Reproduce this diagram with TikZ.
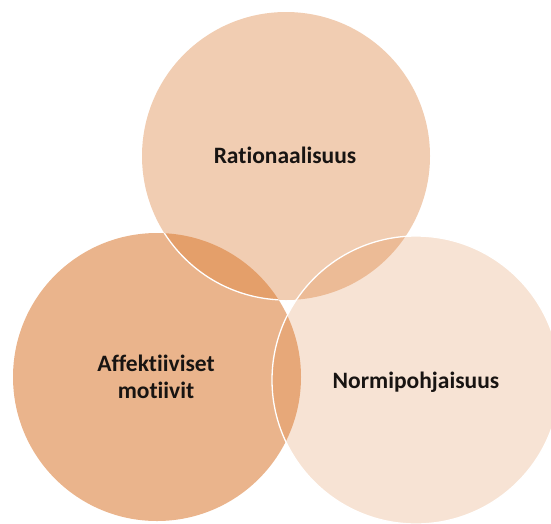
\documentclass[tikz,border=0pt]{standalone}
\usepackage{fontspec}
\setmainfont[Ligatures=NoCommon]{Carlito}
\begin{document}
\begin{tikzpicture}[x=1pt,y=-1pt]
\definecolor{acc}{RGB}{218,122,50}
\definecolor{txt}{RGB}{24,20,18}
\tikzset{
  lbl/.style={font=\bfseries\fontsize{23.5}{27}\selectfont, align=center, text=txt, inner sep=0pt},
  outline/.style={white, line width=1.3pt}
}
\useasboundingbox (0,0) rectangle (551,523);
\coordinate (cT) at (286,156);
\coordinate (cL) at (157,377);
\coordinate (cR) at (416,380);
% left circle
\fill[acc, fill opacity=0.56] (cL) circle[radius=144];
% top circle
\fill[acc, fill opacity=0.375] (cT) circle[radius=144];
\begin{scope}
  \clip (cL) circle[radius=144];
  \draw[outline] (cT) circle[radius=144];
\end{scope}
% right circle
\fill[acc, fill opacity=0.21] (cR) circle[radius=144];
\draw[outline] (cR) circle[radius=144];
% labels
\node[lbl] (rat) at (285,155) {Rationaalisuus};
\node[lbl] (aff) at (156,377) {Affektiiviset\\motiivit};
\node[lbl] (nor) at (416,382) {Normipohjaisuus};
\end{tikzpicture}
\end{document}
